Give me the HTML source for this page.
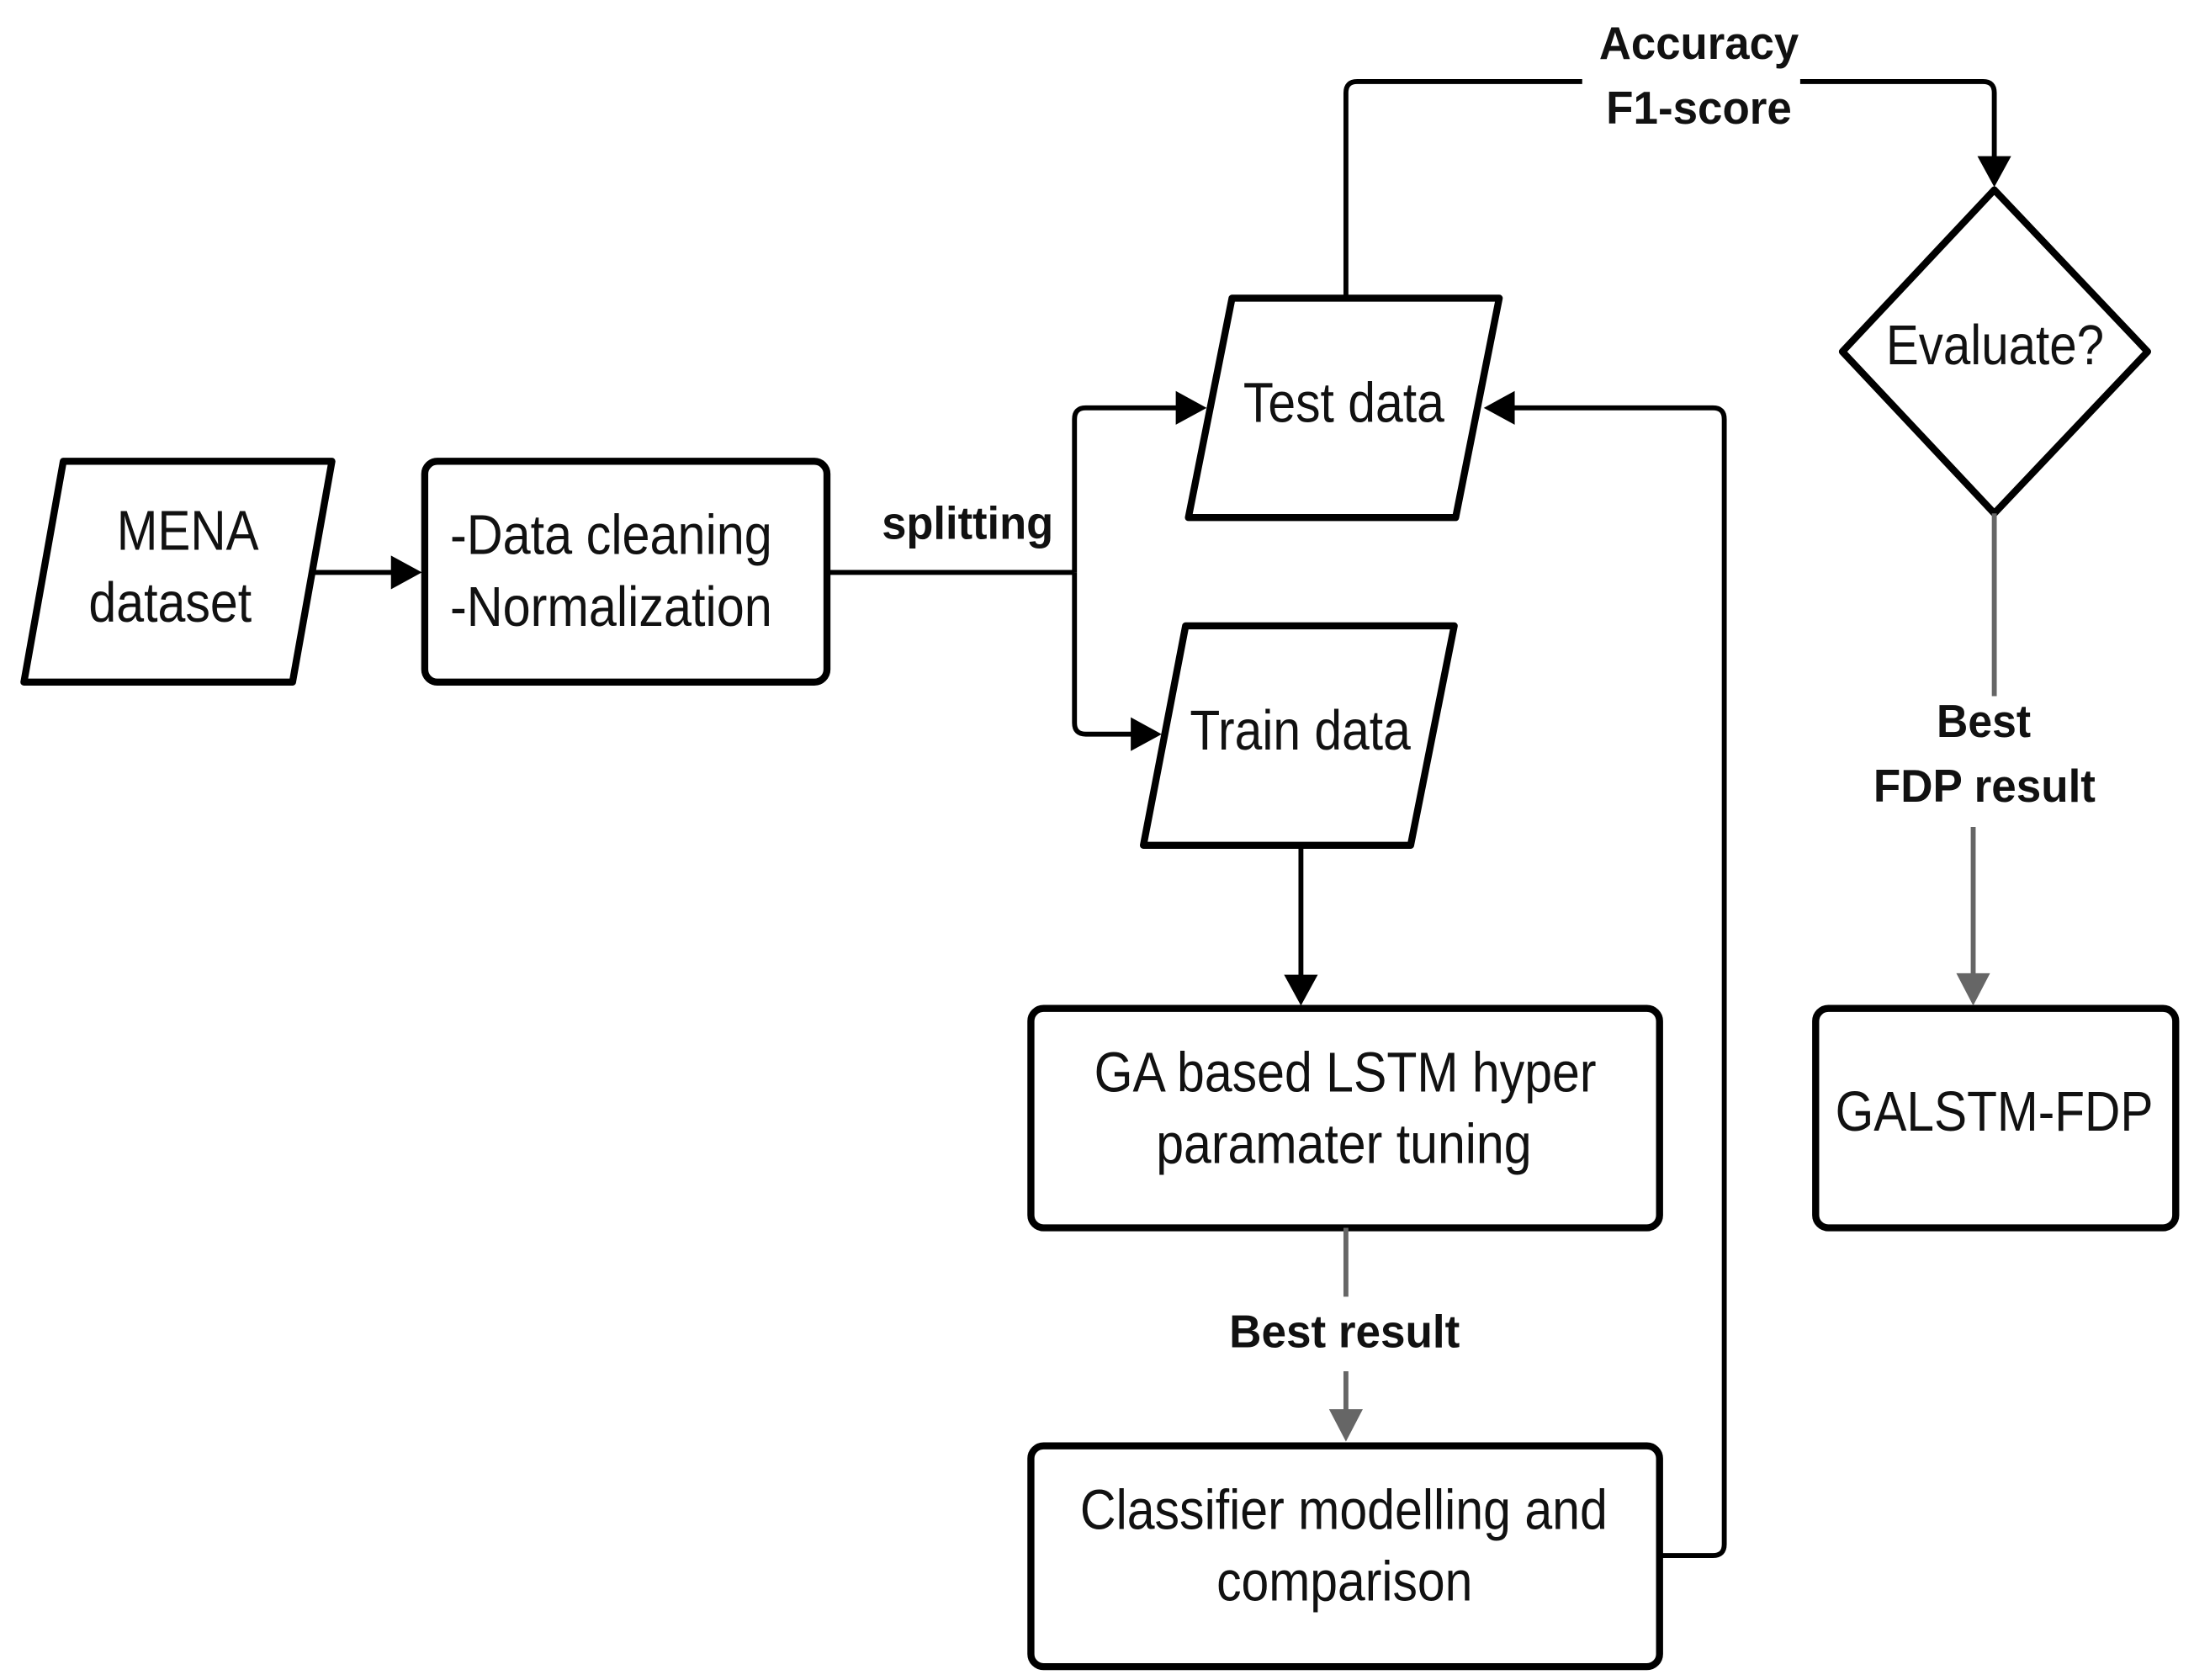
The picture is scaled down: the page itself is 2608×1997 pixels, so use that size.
<!DOCTYPE html>
<html><head><meta charset="utf-8"><style>html,body{margin:0;padding:0;background:#fff}svg{display:block}</style></head>
<body>
<svg width="2608" height="1997" viewBox="0 0 1560 1194.5" preserveAspectRatio="none" xmlns="http://www.w3.org/2000/svg">
<rect width="1560" height="1195" fill="#fff"/>
<g fill="none" stroke="#000" stroke-width="5" stroke-linejoin="round">
<path d="M45,328 L236,328 L208,485 L17,485 Z"/>
<rect x="302" y="328" width="286" height="157" rx="9"/>
<path d="M876,212 L1066,212 L1035,368 L845,368 Z"/>
<path d="M843,445 L1034,445 L1003,601 L813,601 Z"/>
<rect x="733" y="717" width="447" height="156" rx="9"/>
<rect x="733" y="1028" width="447" height="157" rx="9"/>
<path d="M1418,135 L1527,250 L1418,365 L1310,250 Z"/>
<rect x="1291" y="717" width="256" height="156" rx="9"/>
</g>
<g fill="none" stroke="#000" stroke-width="3.5">
<path d="M222,407 L280,407"/>
<path d="M588,407 L764,407"/>
<path d="M764,407 L764,298 Q764,290 772,290 L838,290"/>
<path d="M764,407 L764,514 Q764,522 772,522 L806,522"/>
<path d="M925,601 L925,695"/>
<path d="M1180,1106 L1218,1106 Q1226,1106 1226,1098 L1226,298 Q1226,290 1218,290 L1075,290"/>
<path d="M957,212 L957,66 Q957,58 965,58 L1125,58"/>
<path d="M1280,58 L1410,58 Q1418,58 1418,66 L1418,113"/>
</g>
<g fill="#000">
<path d="M278,395 L300,407 L278,419 Z"/>
<path d="M836,278 L858,290 L836,302 Z"/>
<path d="M804,510 L826,522 L804,534 Z"/>
<path d="M913,693 L925,715 L937,693 Z"/>
<path d="M1077,278 L1055,290 L1077,302 Z"/>
<path d="M1406,111 L1418,133 L1430,111 Z"/>
</g>
<g stroke="#666" stroke-width="3.5" fill="none">
<path d="M957,873 L957,922"/>
<path d="M957,975 L957,1005"/>
<path d="M1418,365 L1418,495"/>
<path d="M1403,588 L1403,695"/>
</g>
<g fill="#666">
<path d="M945,1002 L957,1025 L969,1002 Z"/>
<path d="M1391,692 L1403,715 L1415,692 Z"/>
</g>
<g font-family="'Liberation Sans Narrow','Liberation Sans',sans-serif" font-size="40" fill="#111">
<text x="83" y="391" textLength="101" lengthAdjust="spacingAndGlyphs">MENA</text>
<text x="63" y="442" textLength="116" lengthAdjust="spacingAndGlyphs">dataset</text>
<text x="320" y="394" textLength="229" lengthAdjust="spacingAndGlyphs">-Data cleaning</text>
<text x="320" y="445" textLength="229" lengthAdjust="spacingAndGlyphs">-Normalization</text>
<text x="884" y="300" textLength="143" lengthAdjust="spacingAndGlyphs">Test data</text>
<text x="846" y="533" textLength="157" lengthAdjust="spacingAndGlyphs">Train data</text>
<text x="778" y="776" textLength="357" lengthAdjust="spacingAndGlyphs">GA based LSTM hyper</text>
<text x="822" y="827" textLength="267" lengthAdjust="spacingAndGlyphs">paramater tuning</text>
<text x="768" y="1087" textLength="375" lengthAdjust="spacingAndGlyphs">Classifier modelling and</text>
<text x="865" y="1138" textLength="182" lengthAdjust="spacingAndGlyphs">comparison</text>
<text x="1341" y="259" textLength="155" lengthAdjust="spacingAndGlyphs">Evaluate?</text>
<text x="1305" y="804" textLength="226" lengthAdjust="spacingAndGlyphs">GALSTM-FDP</text>
</g>
<g font-family="'Liberation Sans Narrow','Liberation Sans',sans-serif" font-size="33" font-weight="bold" fill="#111">
<text x="627" y="383" textLength="122" lengthAdjust="spacingAndGlyphs">splitting</text>
<text x="1137" y="42" textLength="142" lengthAdjust="spacingAndGlyphs">Accuracy</text>
<text x="1142" y="88" textLength="132" lengthAdjust="spacingAndGlyphs">F1-score</text>
<text x="874" y="958" textLength="164" lengthAdjust="spacingAndGlyphs">Best result</text>
<text x="1377" y="524" textLength="67" lengthAdjust="spacingAndGlyphs">Best</text>
<text x="1332" y="570" textLength="158" lengthAdjust="spacingAndGlyphs">FDP result</text>
</g>
</svg>
</body></html>
